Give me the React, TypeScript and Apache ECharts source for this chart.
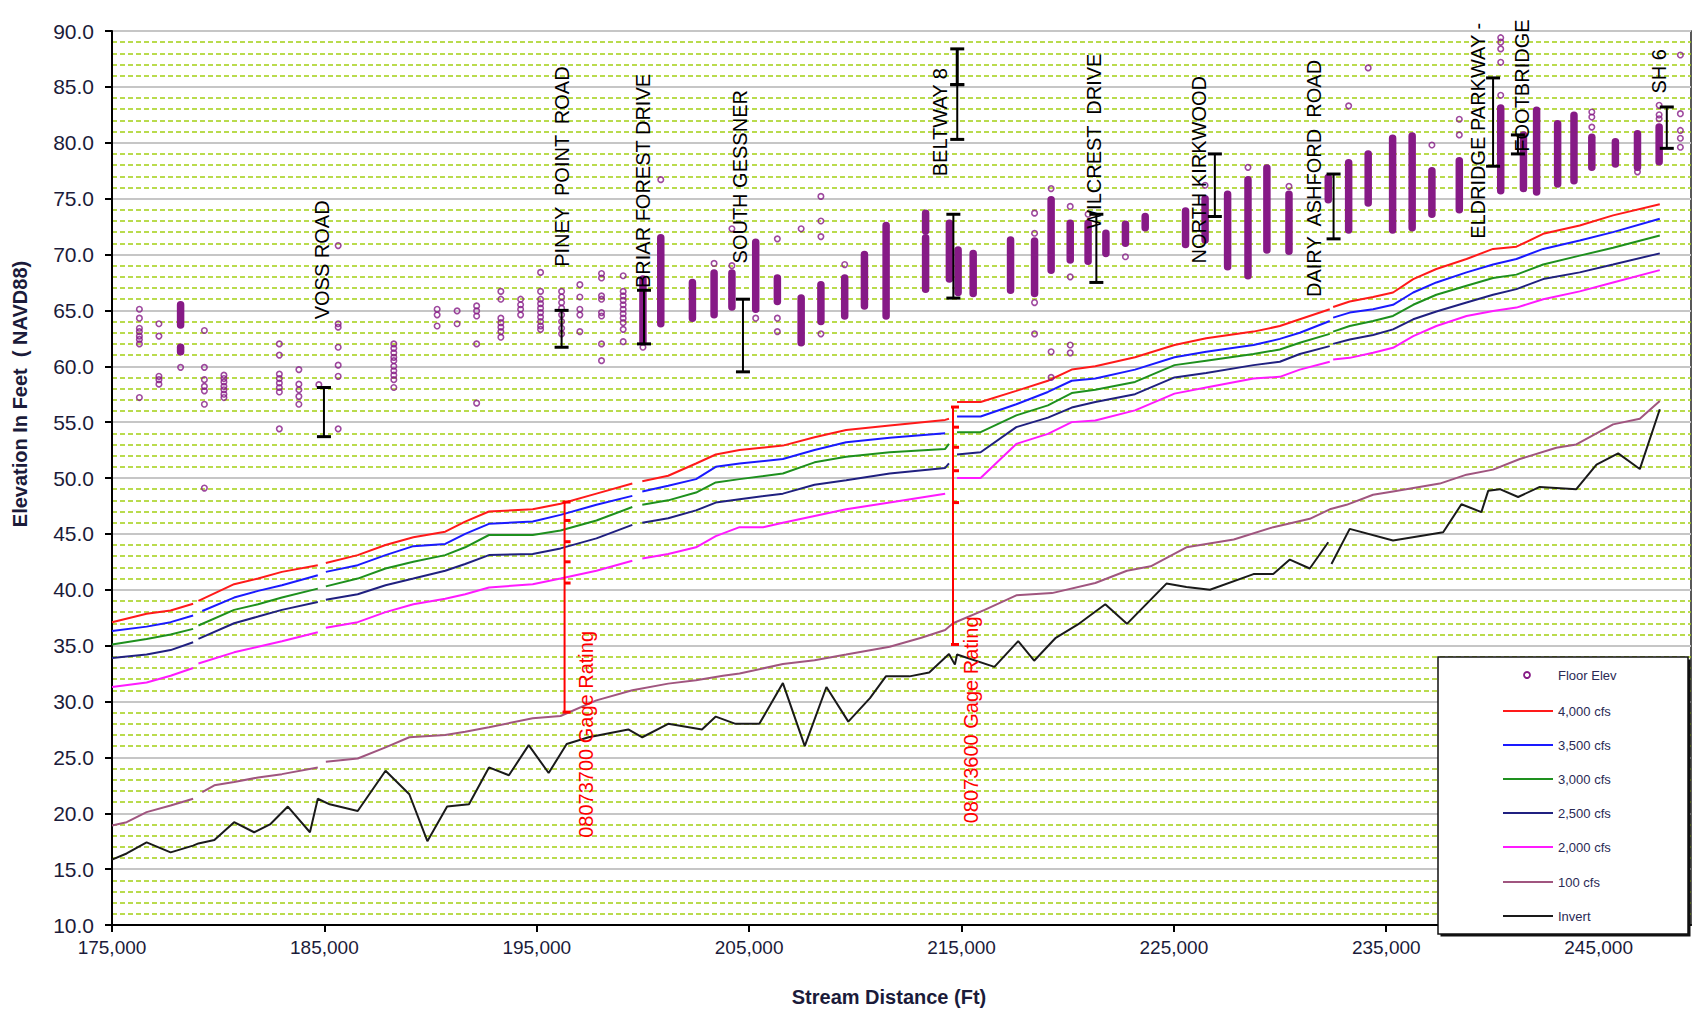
import { useEffect, useRef } from 'react';
import * as echarts from 'echarts';

const FONT = '"Liberation Sans", Arial, sans-serif';
const FLOOR = '#861a86';

const xMin = 175000;
const xMax = 249350;
const yMin = 10;
const yMax = 90;

type P = [number, number | null];

const flow4000: P[] = [[175000,37.1],[176630,37.85],[177760,38.15],[178820,38.75],[178950,null],[179070,39.0],[180750,40.5],[181880,41.0],[183000,41.6],[184690,42.2],[184880,null],[185070,42.4],[186570,43.1],[187880,44.0],[189190,44.7],[190690,45.2],[191630,46.1],[192750,47.0],[194810,47.2],[196120,47.7],[197810,48.6],[199500,49.5],[199730,null],[199970,49.7],[201190,50.2],[202500,51.3],[203430,52.1],[204550,52.5],[206590,52.9],[208080,53.65],[209570,54.3],[211620,54.7],[214230,55.2],[214410,55.3],[214600,null],[214790,56.8],[215900,56.8],[217580,57.8],[219070,58.7],[220190,59.7],[221300,60.0],[223170,60.8],[225030,61.9],[226520,62.5],[228750,63.1],[229990,63.6],[230930,64.2],[232340,65.1],[232420,null],[232500,65.3],[233280,65.8],[234380,66.2],[235320,66.6],[236270,67.8],[237360,68.7],[238780,69.6],[240030,70.5],[241130,70.7],[242390,71.85],[244110,72.6],[245680,73.5],[247880,74.5]];

const flow3500: P[] = [[175000,36.3],[176630,36.7],[177760,37.1],[178820,37.7],[178950,null],[179250,38.1],[180750,39.3],[181880,39.9],[183000,40.4],[184690,41.3],[184880,null],[185070,41.6],[186570,42.2],[187880,43.1],[189190,43.9],[190690,44.1],[191630,45.0],[192750,45.9],[194810,46.1],[196120,46.7],[197810,47.6],[199500,48.4],[199730,null],[199970,48.8],[201190,49.3],[202500,49.9],[203430,51.0],[204550,51.3],[206590,51.7],[208080,52.5],[209570,53.2],[211620,53.6],[214230,54.0],[214600,null],[214790,55.5],[215900,55.5],[217580,56.6],[219070,57.7],[220190,58.7],[221300,58.9],[223170,59.7],[225030,60.8],[226520,61.3],[228750,61.9],[229990,62.45],[230930,63.0],[232340,64.05],[232420,null],[232500,64.35],[233280,64.8],[234380,65.1],[235320,65.5],[236270,66.6],[237360,67.5],[238780,68.4],[240030,69.1],[241130,69.6],[242390,70.5],[244110,71.25],[245680,72.0],[247880,73.2]];

const flow3000: P[] = [[175000,35.1],[176630,35.6],[177760,36.0],[178820,36.5],[178950,null],[179070,36.8],[180750,38.2],[181880,38.7],[183000,39.3],[184690,40.1],[184880,null],[185070,40.3],[186570,41.0],[187880,41.9],[189190,42.5],[190690,43.1],[191630,43.8],[192750,44.9],[194810,44.9],[196120,45.3],[197810,46.2],[199500,47.4],[199730,null],[199970,47.6],[201190,48.0],[202500,48.7],[203430,49.6],[204550,49.9],[206590,50.4],[208080,51.4],[209570,51.9],[211620,52.3],[214230,52.6],[214410,53.05],[214600,null],[214790,54.1],[215900,54.1],[217580,55.6],[219070,56.5],[220190,57.6],[221300,57.9],[223170,58.6],[225030,60.1],[226520,60.5],[228750,61.1],[229990,61.5],[230930,62.1],[232340,62.9],[232420,null],[232500,63.1],[233280,63.6],[234380,64.05],[235320,64.5],[236270,65.5],[237360,66.4],[238780,67.2],[240030,67.9],[241130,68.2],[242390,69.1],[244110,69.9],[245680,70.6],[247880,71.7]];

const flow2500: P[] = [[175000,33.9],[176630,34.2],[177760,34.6],[178820,35.3],[178950,null],[179070,35.6],[180750,37.0],[181880,37.6],[183000,38.2],[184690,38.9],[184880,null],[185070,39.1],[186570,39.6],[187880,40.4],[189190,41.0],[190690,41.7],[191630,42.3],[192750,43.1],[194810,43.2],[196120,43.7],[197810,44.6],[199500,45.8],[199730,null],[199970,46.0],[201190,46.4],[202500,47.1],[203430,47.8],[204550,48.1],[206590,48.6],[208080,49.4],[209570,49.8],[211620,50.4],[214230,50.9],[214410,51.3],[214600,null],[214790,52.1],[215900,52.3],[217580,54.55],[219070,55.4],[220190,56.3],[221300,56.8],[223170,57.5],[225030,59.0],[226520,59.4],[228750,60.1],[229990,60.4],[230930,61.1],[232340,61.8],[232420,null],[232500,62.0],[233280,62.4],[234380,62.8],[235320,63.3],[236270,64.2],[237360,64.9],[238780,65.7],[240030,66.4],[241130,66.9],[242390,67.8],[244110,68.4],[245680,69.1],[247880,70.1]];

const flow2000: P[] = [[175000,31.3],[176630,31.7],[177760,32.3],[178820,33.0],[178950,null],[179070,33.4],[180750,34.4],[181880,34.9],[183000,35.4],[184690,36.2],[184880,null],[185070,36.6],[186570,37.1],[187880,38.0],[189190,38.7],[190690,39.2],[191630,39.6],[192750,40.2],[194810,40.5],[196120,41.0],[197810,41.7],[199500,42.6],[199730,null],[199970,42.8],[201190,43.2],[202500,43.8],[203430,44.8],[204550,45.6],[205660,45.6],[206590,46.0],[208080,46.6],[209570,47.2],[211620,47.8],[214230,48.6],[214600,null],[214790,50.0],[215900,50.0],[217580,53.05],[219070,53.95],[220190,55.0],[221300,55.15],[223170,56.05],[225030,57.55],[226520,58.1],[228750,58.9],[229990,59.05],[230930,59.7],[232340,60.4],[232420,null],[232500,60.6],[233280,60.75],[234380,61.2],[235320,61.65],[236270,62.7],[237360,63.6],[238780,64.5],[240030,64.95],[241130,65.25],[242390,66.0],[244110,66.7],[245680,67.5],[247880,68.6]];

const flow100: P[] = [[175000,18.9],[175690,19.2],[176630,20.1],[177760,20.7],[178820,21.3],[178950,null],[179250,21.9],[179820,22.5],[180750,22.8],[181880,23.2],[183000,23.5],[184690,24.1],[184880,null],[185070,24.6],[186570,24.9],[187880,25.9],[189000,26.8],[190690,27.0],[191630,27.3],[192750,27.7],[194810,28.5],[196120,28.7],[197810,30.1],[199500,31.0],[201190,31.6],[202500,31.9],[203770,32.3],[204550,32.5],[206590,33.35],[208080,33.7],[209570,34.2],[211620,34.9],[213110,35.7],[214230,36.4],[214600,37.0],[216090,38.2],[217580,39.5],[219260,39.7],[221300,40.6],[222790,41.7],[223910,42.1],[225590,43.8],[227820,44.5],[229680,45.6],[231400,46.35],[232340,47.2],[233130,47.6],[234380,48.5],[235320,48.8],[237520,49.5],[238780,50.3],[240030,50.75],[241290,51.7],[243010,52.7],[243950,53.0],[245680,54.8],[246940,55.3],[247880,56.9]];

const invert: P[] = [[175000,15.85],[175690,16.4],[176630,17.4],[177760,16.5],[178820,17.1],[179070,17.3],[179820,17.6],[180750,19.2],[181690,18.3],[182440,19.0],[183280,20.6],[184320,18.3],[184690,21.3],[185250,20.8],[186570,20.2],[187880,23.8],[189000,21.7],[189850,17.5],[190780,20.6],[191810,20.8],[192750,24.1],[193690,23.4],[194620,26.1],[195560,23.6],[196410,26.2],[197440,26.8],[199310,27.5],[199970,26.8],[201190,28.0],[202780,27.5],[203430,28.65],[204360,28.0],[205480,28.0],[206590,31.65],[207620,26.0],[208640,31.3],[209670,28.2],[210690,30.3],[211440,32.25],[212550,32.25],[213480,32.6],[214410,34.25],[214690,33.3],[214790,34.2],[216550,33.1],[217670,35.4],[218420,33.65],[219440,35.7],[220560,37.0],[221770,38.7],[222790,36.95],[224650,40.55],[225590,40.25],[226700,40.0],[228750,41.4],[229680,41.4],[230460,42.7],[231400,41.9],[232270,44.25],[232340,null],[232420,42.3],[233280,45.45],[235320,44.4],[237680,45.15],[238540,47.65],[239480,46.95],[239800,48.85],[240350,49.0],[241210,48.3],[242230,49.2],[243950,49.0],[244900,51.2],[245920,52.2],[246940,50.8],[247880,56.15]];

// Floor elevations: individual readable points per station
const floorSparse: [number, number[]][] = [
  [176290,[65.1,64.3,63.4,63.1,62.7,62.4,62.0,57.2]],
  [177210,[63.8,62.7,59.1,58.8,58.4]],
  [178230,[59.9]],
  [179350,[63.2,59.9,58.8,58.2,57.8,56.6,49.1]],
  [180270,[59.2,58.9,58.6,58.2,57.9,57.5,57.2]],
  [182880,[62.0,61.0,59.3,58.9,58.5,58.1,57.7,54.4]],
  [183800,[59.7,58.4,57.9,57.3,56.6]],
  [184740,[58.35]],
  [185650,[70.8,63.8,63.5,61.7,60.1,59.1,54.4]],
  [188270,[62.0,61.6,61.2,60.8,60.5,60.0,59.6,59.2,58.8,58.1]],
  [190310,[65.1,64.6,63.6]],
  [191250,[64.95,63.8]],
  [192170,[65.4,64.95,64.5,62.0,56.7]],
  [193310,[66.7,66.0,64.3,63.9,63.5,63.1,62.6]],
  [194240,[66.0,65.5,65.1,64.6]],
  [195180,[68.4,66.7,66.0,65.6,65.2,64.8,64.4,64.0,63.6,63.3]],
  [196170,[66.7,66.2,65.7,65.2,64.6,64.0,63.4,62.9]],
  [197030,[67.3,66.2,65.1,64.6,63.1]],
  [198050,[68.3,67.9,66.3,66.0,64.8,64.5,62.0,60.5]],
  [199070,[68.1,66.7,66.3,65.9,65.5,65.1,64.7,64.3,63.9,63.3,62.2]],
  [200000,[61.7]],
  [200840,[76.7]],
  [203350,[69.2]],
  [204190,[72.3,69.0]],
  [205310,[64.3]],
  [206330,[71.4,64.3,63.1]],
  [207450,[72.3]],
  [208380,[75.2,73.0,71.6,62.9]],
  [209500,[69.1]],
  [218440,[73.7,71.9,65.7,62.9]],
  [219220,[75.9,61.3,59.0]],
  [220120,[74.3,68.0,61.9,61.2]],
  [220960,[73.6]],
  [222720,[69.8]],
  [226470,[76.2]],
  [228490,[77.8]],
  [230420,[76.1]],
  [233230,[83.3]],
  [234150,[86.7]],
  [237150,[79.8]],
  [238440,[82.1,80.7]],
  [240390,[89.4,89.0,88.4,87.2,84.25]],
  [244680,[82.75,82.3,81.4]],
  [246830,[77.4]],
  [247850,[83.35,82.5,82.15]],
  [248850,[87.85,82.6,81.1,80.4,79.6]],
];

// Floor elevations: densely stacked runs [station, lowest, highest]
const floorDense: [number, number, number][] = [
  [178230,63.7,65.5],[178230,61.3,61.7],[200000,62.2,67.8],[200840,63.8,71.5],[202330,64.3,67.5],
  [203350,64.6,68.35],[204190,65.3,68.35],[205310,65.1,71.1],[206330,65.8,67.9],[207450,62.1,66.1],
  [208380,64.0,67.3],[209500,64.5,67.9],[210430,65.4,70.0],[211450,64.5,72.6],[213310,72.1,73.7],
  [213310,66.9,71.5],[214430,67.8,72.8],[214840,66.6,70.4],[215550,66.5,70.1],[217310,66.8,71.3],
  [218440,66.5,71.2],[219220,68.6,74.9],[220120,69.5,72.8],[220960,69.4,72.8],[221800,70.1,71.9],
  [222720,71.0,72.7],[223650,72.4,73.4],[225550,70.9,73.9],[226470,71.3,75.0],[227530,68.9,75.4],
  [228490,68.1,76.7],[229380,70.4,77.75],[230420,70.3,75.4],[232270,74.9,76.9],[233230,72.2,78.2],
  [234150,74.6,79.0],[235300,72.2,80.4],[236220,72.4,80.6],[237150,73.6,77.5],[238440,74.0,78.4],
  [240390,75.7,83.1],[241460,75.9,80.7],[242080,75.6,82.9],[243070,76.3,81.7],[243840,76.6,82.45],
  [244680,77.8,80.5],[245790,78.1,80.1],[246830,77.8,80.8],[247850,78.3,81.4],
];

// Bridges: [station, low chord, high chord, weight]
const bridgeBars: [number, number, number, number][] = [
  [184980,53.7,58.1,2],[196170,61.7,65.0,2],[200050,62.0,66.8,2],[204710,59.5,66.0,2],
  [214617,66.1,73.6,2],[214800,80.3,85.2,2],[214800,85.2,88.4,3],[221350,67.5,73.6,2],
  [226930,73.4,79.0,2],[232520,71.4,77.2,2],[240030,77.9,85.8,2],[241200,79.0,80.7,2],[248210,79.5,83.2,2],
];
const bridgeNames = ['VOSS ROAD','PINEY  POINT  ROAD','BRIAR FOREST DRIVE','SOUTH GESSNER','BELTWAY 8','WILCREST  DRIVE','NORTH KIRKWOOD','DAIRY  ASHFORD  ROAD','ELDRIDGE PARKWAY -','FOOTBRIDGE','SH 6'];
const bridgeLabelX = [184870,196180,200000,204570,213980,221260,226170,231600,239315,241410,247850];
const bridgeLabelY = [64.2,68.9,67.0,69.2,77.0,72.3,69.2,66.2,71.4,79.2,84.4];

// Gage ratings
const gageBars: [number, number, number][] = [[196310,29.05,47.85],[214600,35.1,56.35]];
const gageTicks: number[][] = [[46.2,44.3,42.5,40.6],[54.55,52.75,50.65,47.8]];
const gageNames = ['08073700 Gage Rating','08073600 Gage Rating'];
const gageLabelX = [197300,215440];
const gageLabelY = [17.8,19.1];

const yTicks = [10,15,20,25,30,35,40,45,50,55,60,65,70,75,80,85,90];
const xTicks = [175000,185000,195000,205000,215000,225000,235000,245000];

const lineDefs: [string, string, P[]][] = [
  ['4,000 cfs','#ff1a1a',flow4000],
  ['3,500 cfs','#1a1aff',flow3500],
  ['3,000 cfs','#1e901e',flow3000],
  ['2,500 cfs','#202080',flow2500],
  ['2,000 cfs','#ff1aff',flow2000],
  ['100 cfs','#a0557f',flow100],
  ['Invert','#1a1a1a',invert],
];

function buildOption(): any {
  const lineSeries = lineDefs.map(([name, color, data]) => ({
    name,
    type: 'line',
    symbol: 'none',
    z: 2,
    lineStyle: { color, width: 2 },
    itemStyle: { color },
    data: data.map(([x, y]) => [x, y === null ? '-' : y]),
  }));

  const scatterData: number[][] = [];
  floorSparse.forEach(([x, ys]) => ys.forEach((y) => scatterData.push([x, y])));

  const labelRender = (names: string[], color: string) => (params: any, api: any) => {
    const p = api.coord([api.value(0), api.value(1)]);
    return {
      type: 'text',
      x: p[0],
      y: p[1],
      rotation: Math.PI / 2,
      style: { text: names[params.dataIndex], fill: color, font: `20px ${FONT}`, align: 'left', verticalAlign: 'middle' },
    };
  };

  const legendRows: [string, string | null, number][] = [
    ['Floor Elev', null, 675],
    ['4,000 cfs', '#ff1a1a', 711],
    ['3,500 cfs', '#1a1aff', 745],
    ['3,000 cfs', '#1e901e', 779],
    ['2,500 cfs', '#202080', 813],
    ['2,000 cfs', '#ff1aff', 847],
    ['100 cfs', '#a0557f', 882],
    ['Invert', '#1a1a1a', 916],
  ];
  const legendEls: any[] = [
    { type: 'rect', z: 50, shape: { x: 1440.5, y: 659.5, width: 250, height: 277 }, style: { fill: '#111' } },
    { type: 'rect', z: 51, shape: { x: 1438, y: 657, width: 250, height: 277 }, style: { fill: '#fff', stroke: '#111', lineWidth: 1.5 } },
  ];
  legendRows.forEach(([name, color, y]) => {
    if (color) {
      legendEls.push({ type: 'line', z: 52, shape: { x1: 1503, y1: y, x2: 1553, y2: y }, style: { stroke: color, lineWidth: 2 } });
    } else {
      legendEls.push({ type: 'circle', z: 52, shape: { cx: 1527, cy: y, r: 3 }, style: { fill: 'none', stroke: FLOOR, lineWidth: 1.8 } });
    }
    legendEls.push({ type: 'text', z: 52, x: 1558, y, style: { text: name, fill: '#2a2a55', font: `13px ${FONT}`, align: 'left', verticalAlign: 'middle' } });
  });

  return {
    animation: false,
    backgroundColor: '#ffffff',
    grid: { left: 112, right: 5, top: 31, bottom: 89, show: true, borderColor: '#222', borderWidth: 1.5, backgroundColor: 'transparent' },
    xAxis: {
      type: 'value',
      min: xMin,
      max: xMax,
      interval: 10000,
      axisLine: { show: true, onZero: false, lineStyle: { color: '#000', width: 2 } },
      axisTick: { show: true, inside: false, length: 7, lineStyle: { color: '#000', width: 2 } },
      axisLabel: {
        show: true,
        margin: 13,
        fontSize: 19,
        fontFamily: FONT,
        color: '#1b1b3a',
        showMaxLabel: false,
        formatter: (v: number) => (xTicks.indexOf(v) >= 0 ? v.toLocaleString('en-US') : ''),
      },
      splitLine: { show: false },
    },
    yAxis: {
      type: 'value',
      min: yMin,
      max: yMax,
      interval: 5,
      axisLine: { show: true, onZero: false, lineStyle: { color: '#000', width: 2 } },
      axisTick: { show: true, inside: false, length: 7, lineStyle: { color: '#000', width: 2 } },
      axisLabel: {
        margin: 18,
        fontSize: 21,
        fontFamily: FONT,
        color: '#1b1b3a',
        formatter: (v: number) => (yTicks.indexOf(v) >= 0 ? v.toFixed(1) : ''),
      },
      splitLine: { show: true, lineStyle: { color: '#c6c6c6', width: 2 } },
      minorTick: { show: false, splitNumber: 5 },
      minorSplitLine: { show: true, lineStyle: { color: '#a3d013', width: 1.6, type: [5, 3] } },
    },
    graphic: [
      { type: 'text', x: 20, y: 394, rotation: Math.PI / 2, style: { text: 'Elevation In Feet  ( NAVD88)', fill: '#1b1b3a', font: `bold 20px ${FONT}`, align: 'center', verticalAlign: 'middle' } },
      { type: 'text', x: 889, y: 997, style: { text: 'Stream Distance (Ft)', fill: '#1b1b3a', font: `bold 20px ${FONT}`, align: 'center', verticalAlign: 'middle' } },
      ...legendEls,
    ],
    series: [
      ...lineSeries,
      {
        name: 'Floor Elev',
        type: 'scatter',
        z: 3,
        symbol: 'circle',
        symbolSize: 5.5,
        itemStyle: { color: 'rgba(255,255,255,0)', borderColor: FLOOR, borderWidth: 1.6 },
        data: scatterData,
      },
      {
        name: 'Floor Elev (stacked)',
        type: 'custom',
        z: 3,
        data: floorDense,
        renderItem: (params: any, api: any) => {
          const top = api.coord([api.value(0), api.value(2)]);
          const bot = api.coord([api.value(0), api.value(1)]);
          const w = 7.5;
          return {
            type: 'rect',
            shape: { x: top[0] - w / 2, y: top[1] - w / 2, width: w, height: bot[1] - top[1] + w, r: w / 2 },
            style: { fill: FLOOR },
          };
        },
      },
      {
        name: 'Bridges',
        type: 'custom',
        z: 4,
        data: bridgeBars,
        renderItem: (params: any, api: any) => {
          const x = api.value(0);
          const lw = api.value(3);
          const top = api.coord([x, api.value(2)]);
          const bot = api.coord([x, api.value(1)]);
          const h = 7;
          return {
            type: 'group',
            children: [
              { type: 'line', shape: { x1: top[0], y1: top[1], x2: bot[0], y2: bot[1] }, style: { stroke: '#000', lineWidth: lw } },
              { type: 'line', shape: { x1: top[0] - h, y1: top[1], x2: top[0] + h, y2: top[1] }, style: { stroke: '#000', lineWidth: 3 } },
              { type: 'line', shape: { x1: bot[0] - h, y1: bot[1], x2: bot[0] + h, y2: bot[1] }, style: { stroke: '#000', lineWidth: 3 } },
            ],
          };
        },
      },
      {
        name: 'Gages',
        type: 'custom',
        z: 4,
        data: gageBars,
        renderItem: (params: any, api: any) => {
          const x = api.value(0);
          const top = api.coord([x, api.value(2)]);
          const bot = api.coord([x, api.value(1)]);
          const children: any[] = [
            { type: 'line', shape: { x1: top[0], y1: top[1], x2: bot[0], y2: bot[1] }, style: { stroke: '#ff0000', lineWidth: 2 } },
            { type: 'line', shape: { x1: top[0] - 2, y1: top[1], x2: top[0] + 6, y2: top[1] }, style: { stroke: '#ff0000', lineWidth: 3 } },
            { type: 'line', shape: { x1: bot[0] - 2, y1: bot[1], x2: bot[0] + 6, y2: bot[1] }, style: { stroke: '#ff0000', lineWidth: 3 } },
          ];
          gageTicks[params.dataIndex].forEach((v) => {
            const p = api.coord([x, v]);
            children.push({ type: 'line', shape: { x1: p[0], y1: p[1], x2: p[0] + 6, y2: p[1] }, style: { stroke: '#ff0000', lineWidth: 3 } });
          });
          return { type: 'group', children };
        },
      },
      {
        name: 'Bridge Labels',
        type: 'custom',
        z: 5,
        clip: false,
        data: bridgeLabelX.map((x, i) => [x, bridgeLabelY[i]]),
        renderItem: labelRender(bridgeNames, '#000000'),
      },
      {
        name: 'Gage Labels',
        type: 'custom',
        z: 5,
        clip: false,
        data: gageLabelX.map((x, i) => [x, gageLabelY[i]]),
        renderItem: labelRender(gageNames, '#ff0000'),
      },
    ],
  };
}

export default function App() {
  const ref = useRef<HTMLDivElement>(null);
  useEffect(() => {
    if (!ref.current) return;
    const chart = echarts.init(ref.current, null, { renderer: 'svg' });
    chart.setOption(buildOption());
    return () => chart.dispose();
  }, []);
  return (
    <div
      ref={ref}
      style={{ position: 'fixed', left: 0, top: 0, width: 1696, height: 1014, background: '#fff' }}
    />
  );
}
